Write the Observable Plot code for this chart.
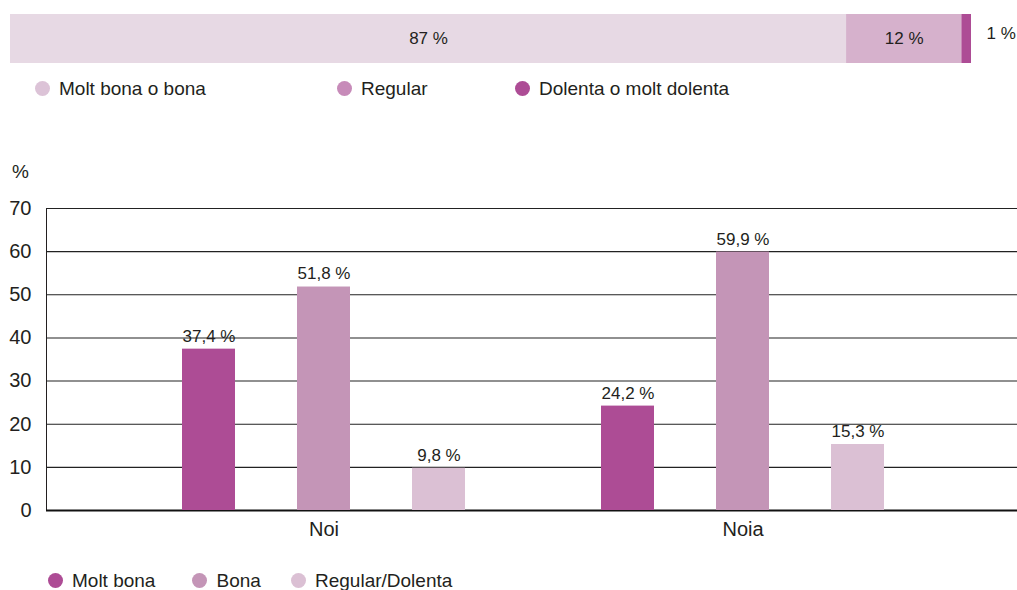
<!DOCTYPE html>
<html>
<head>
<meta charset="utf-8">
<script src="https://cdn.jsdelivr.net/npm/d3@7"></script>
<script src="https://cdn.jsdelivr.net/npm/@observablehq/plot@0.6"></script>
<style>
  body { margin: 0; background: #fff; font-family: "Liberation Sans", Arial, sans-serif; color: #231f20; }
  #page { position: relative; width: 1017px; height: 590px; overflow: hidden; }
  .layer { position: absolute; left: 0; }
  .layer svg { display: block; }
  .leg { position: absolute; display: flex; align-items: center; height: 19px; font-size: 19px; line-height: 1; white-space: nowrap; }
  .leg .dot { width: 15px; height: 15px; border-radius: 50%; margin-right: 9.5px; flex: none; }
  .unit { position: absolute; left: 12px; top: 162px; font-size: 19px; line-height: 1; }
</style>
</head>
<body>
<div id="page"></div>
<script>
// ---- Data: overall self-rated health (stacked bar) ----
const ratingCats = ["Molt bona o bona", "Regular", "Dolenta o molt dolenta"];
const ratingValues = [87, 12, 1];
const ratingColors = ["#e7d9e4", "#d6b1cc", "#ad4c95"];
const ratingLegendColors = ["#dcc3d7", "#c78bb9", "#ad4c95"];

// ---- Data: by sex (grouped bars) ----
const groups = ["Noi", "Noia"];
const series = ["Molt bona", "Bona", "Regular/Dolenta"];
const noiValues = [37.4, 51.8, 9.8];
const noiaValues = [24.2, 59.9, 15.3];
const seriesColors = ["#ad4c95", "#c495b7", "#dbc0d4"];
const yTicks = [0, 10, 20, 30, 40, 50, 60, 70];
const yUnit = "%";

// ---- layout (not data) ----
const W = 1017;
const legend1Centers = [42, 344, 522];
const legend2Centers = [55, 199.5, 298];

const fmtPct = v => String(v).replace(".", ",") + " %";
const fmt1 = v => v.toFixed(1).replace(".", ",") + " %";

const page = document.getElementById("page");
const font = '"Liberation Sans", Arial, sans-serif';

function addLayer(node, top) {
  const d = document.createElement("div");
  d.className = "layer";
  d.style.top = top + "px";
  d.appendChild(node);
  page.appendChild(d);
}

// ---- Top stacked bar ----
const topData = ratingCats.map((c, i) => ({cat: c, value: ratingValues[i]}));
const topPlot = Plot.plot({
  width: W, height: 63,
  marginTop: 14, marginBottom: 0, marginLeft: 10, marginRight: 46,
  x: {domain: [0, 100], axis: null},
  y: {axis: null},
  color: {domain: ratingCats, range: ratingColors},
  style: {fontFamily: font, fontSize: "17px", color: "#231f20", background: "transparent", overflow: "visible"},
  marks: [
    Plot.barX(topData, Plot.stackX({x: "value", fill: "cat", order: null})),
    Plot.text(topData, Plot.stackX({x: "value", z: "cat", order: null, text: d => d.value >= 5 ? fmtPct(d.value) : null, fill: "#231f20", fontSize: 17})),
    Plot.text(topData, Plot.stackX2({x: "value", z: "cat", order: null, text: d => d.value < 5 ? fmtPct(d.value) : null, fill: "#231f20", fontSize: 17, textAnchor: "start", dx: 15, dy: -5}))
  ]
});
addLayer(topPlot, 0);

// ---- Legends ----
function legend(labels, colors, centers, top) {
  labels.forEach((lab, i) => {
    const item = document.createElement("div");
    item.className = "leg";
    item.style.left = (centers[i] - 7.5) + "px";
    item.style.top = top + "px";
    const dot = document.createElement("span");
    dot.className = "dot";
    dot.style.background = colors[i];
    const t = document.createElement("span");
    t.textContent = lab;
    item.appendChild(dot);
    item.appendChild(t);
    page.appendChild(item);
  });
}
legend(ratingCats, ratingLegendColors, legend1Centers, 79);

// ---- Bottom grouped bars ----
const barData = groups.flatMap((g, gi) =>
  series.map((s, si) => ({group: g, series: s, value: [noiValues, noiaValues][gi][si]})));

const dims = {width: W, height: 400, marginTop: 58, marginBottom: 40, marginLeft: 46, marginRight: 0};

const gridPlot = Plot.plot({
  ...dims,
  y: {domain: [0, 70], ticks: yTicks, tickSize: 0, tickPadding: 15, label: null, line: true},
  style: {fontFamily: font, fontSize: "20px", color: "#231f20", background: "transparent"},
  marks: [
    Plot.ruleY(yTicks.filter(v => v > 0), {stroke: "#222", strokeWidth: 1.1}),
    Plot.ruleY([0], {stroke: "#111", strokeWidth: 2})
  ]
});
addLayer(gridPlot, 150);

const barPlot = Plot.plot({
  ...dims,
  fx: {domain: groups, paddingInner: 0.0298, paddingOuter: 0.172, align: 0.51, label: null, axis: "bottom", tickSize: 0, tickPadding: 11},
  x: {domain: series, padding: 0.539, axis: null},
  y: {domain: [0, 70], axis: null},
  color: {domain: series, range: seriesColors},
  style: {fontFamily: font, fontSize: "20px", color: "#231f20", background: "transparent", overflow: "visible"},
  marks: [
    Plot.barY(barData, {fx: "group", x: "series", y: "value", fill: "series"}),
    Plot.text(barData, {fx: "group", x: "series", y: "value", text: d => fmt1(d.value), dy: -13, fontSize: 17, fill: "#231f20"})
  ]
});
addLayer(barPlot, 150);

const unit = document.createElement("div");
unit.className = "unit";
unit.textContent = yUnit;
page.appendChild(unit);

legend(series, seriesColors, legend2Centers, 570.5);
</script>
</body>
</html>
